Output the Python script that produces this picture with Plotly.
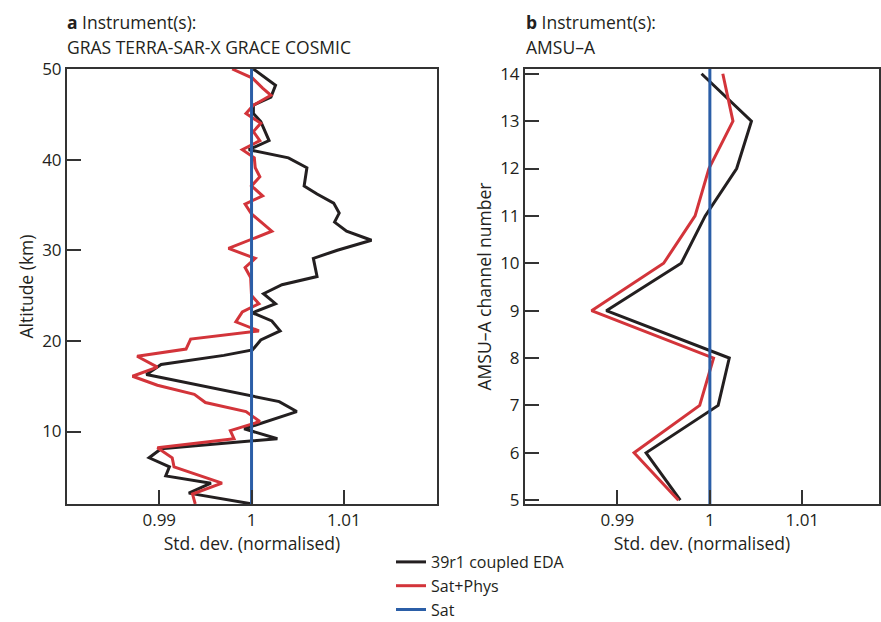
import plotly.graph_objects as go

# Panel a: altitude (km) and normalised std. dev.
alt_black = [50, 48.2, 46.9, 46.0, 45.1, 44.2, 42.1, 41.1, 40.2, 39.1, 37.1, 36.2, 35.2, 34.1, 33.1, 32.1, 31.1, 30.0, 29.1, 27.1, 26.2, 25.2, 24.1, 23.1, 22.2, 21.1, 20.1, 19.0, 18.4, 17.4, 16.3, 15.1, 13.3, 12.2, 10.3, 9.2, 8.1, 7.1, 6.1, 5.1, 4.3, 3.2, 2.0]
std_black = [1.0002, 1.0026, 1.0021, 1.0002, 1.0002, 1.0010, 1.0019, 0.9997, 1.0040, 1.0060, 1.0057, 1.0071, 1.0089, 1.0095, 1.0090, 1.0103, 1.0130, 1.0093, 1.0067, 1.0071, 1.0033, 1.0013, 1.0026, 1.0001, 1.0022, 1.0031, 1.0010, 1.0001, 0.9970, 0.9902, 0.9886, 0.9945, 1.0030, 1.0049, 0.9992, 1.0028, 0.9902, 0.9889, 0.9911, 0.9907, 0.9956, 0.9932, 1.0001]

alt_red = [50, 49.0, 47.9, 47.1, 46.0, 45.1, 44.0, 43.1, 42.1, 41.1, 40.2, 39.1, 38.1, 37.1, 36.0, 35.1, 34.0, 32.1, 30.2, 29.1, 28.1, 27.0, 25.0, 24.1, 23.2, 22.1, 21.1, 20.2, 19.1, 18.3, 17.1, 16.1, 15.1, 14.1, 13.2, 12.2, 11.1, 10.1, 9.2, 8.2, 7.1, 6.1, 4.3, 3.1, 2.0]
std_red = [0.9979, 1.0001, 1.0012, 1.0021, 1.0002, 0.9994, 1.0010, 1.0002, 1.0009, 0.9990, 1.0003, 1.0004, 1.0009, 1.0000, 1.0012, 0.9993, 1.0000, 1.0022, 0.9975, 1.0004, 0.9993, 0.9999, 1.0000, 1.0008, 0.9990, 0.9983, 1.0008, 0.9934, 0.9929, 0.9876, 0.9898, 0.9871, 0.9898, 0.9938, 0.9950, 0.9994, 1.0009, 0.9977, 0.9981, 0.9898, 0.9914, 0.9916, 0.9968, 0.9936, 0.9939]

alt_blue = [2, 50]
std_blue = [1.0, 1.0]

# Panel b: AMSU-A channel numbers
channels = [14, 13, 12, 11, 10, 9, 8, 7, 6, 5]
amsu_black = [0.9991, 1.0045, 1.0029, 0.9995, 0.9969, 0.9888, 1.0021, 1.0009, 0.9931, 0.9968]
amsu_red = [1.0014, 1.0025, 0.9999, 0.9984, 0.9950, 0.9872, 1.0004, 0.9989, 0.9918, 0.9966]
amsu_blue = [1.0, 1.0]
chan_blue = [4.92, 14.1]

x_ticks = [0.99, 1.0, 1.01]
x_ticklabels = ["0.99", "1", "1.01"]
a_yticks = [10, 20, 30, 40, 50]
b_yticks = list(range(5, 15))

names = ["39r1 coupled EDA", "Sat+Phys", "Sat"]
BLACK = "#231f20"
RED = "#d3343a"
BLUE = "#2b5ea7"
FONT = "Open Sans"

fig = go.Figure()
lw = 3
fig.add_trace(go.Scatter(x=std_black, y=alt_black, mode="lines", line=dict(color=BLACK, width=lw),
                         name=names[0], xaxis="x", yaxis="y"))
fig.add_trace(go.Scatter(x=std_red, y=alt_red, mode="lines", line=dict(color=RED, width=lw),
                         name=names[1], xaxis="x", yaxis="y"))
fig.add_trace(go.Scatter(x=std_blue, y=alt_blue, mode="lines", line=dict(color=BLUE, width=lw),
                         name=names[2], xaxis="x", yaxis="y"))
fig.add_trace(go.Scatter(x=amsu_black, y=channels, mode="lines", line=dict(color=BLACK, width=lw),
                         name=names[0], showlegend=False, xaxis="x2", yaxis="y2"))
fig.add_trace(go.Scatter(x=amsu_red, y=channels, mode="lines", line=dict(color=RED, width=lw),
                         name=names[1], showlegend=False, xaxis="x2", yaxis="y2"))
fig.add_trace(go.Scatter(x=amsu_blue, y=chan_blue, mode="lines", line=dict(color=BLUE, width=lw),
                         name=names[2], showlegend=False, xaxis="x2", yaxis="y2"))

axis_common = dict(showline=True, mirror=True, linecolor="#333333", linewidth=2,
                   ticks="inside", ticklen=14, tickwidth=2, tickcolor="#333333",
                   showgrid=False, zeroline=False, automargin=False,
                   tickfont=dict(size=17, color="#231f20", family=FONT))
title_font = dict(size=17.5, color="#231f20", family=FONT)

ytop = 1 - 69 / 622
ybot = 1 - 504 / 622

fig.update_layout(
    width=881, height=622,
    margin=dict(l=0, r=0, t=0, b=0, autoexpand=False),
    plot_bgcolor="white", paper_bgcolor="white",
    font=dict(family=FONT, color="#231f20"),
    xaxis=dict(domain=[67 / 881, 437 / 881], range=[0.98, 1.0201], tickvals=x_ticks,
               ticktext=x_ticklabels, anchor="y",
               title=dict(text="Std. dev. (normalised)", font=title_font, standoff=2), **axis_common),
    yaxis=dict(domain=[ybot, ytop], range=[2, 50], tickvals=a_yticks, anchor="x",
               title=dict(text="Altitude (km)", font=title_font, standoff=4), **axis_common),
    xaxis2=dict(domain=[525 / 881, 879 / 881], range=[0.98, 1.0183], tickvals=x_ticks,
                ticktext=x_ticklabels, anchor="y2",
                title=dict(text="Std. dev. (normalised)", font=title_font, standoff=2), **axis_common),
    yaxis2=dict(domain=[ybot, ytop], range=[4.92, 14.1], tickvals=b_yticks, anchor="x2",
                title=dict(text="AMSU–A channel number", font=title_font, standoff=4), **axis_common),
    legend=dict(x=391 / 881, y=1 - 545 / 622, xref="paper", yref="paper",
                xanchor="left", yanchor="top",
                font=dict(size=16, family=FONT, color="#231f20"),
                bgcolor="rgba(0,0,0,0)", tracegroupgap=0, itemwidth=30),
    showlegend=True,
)

ann_font = dict(size=17.5, family=FONT, color="#231f20")
annotations = [
    dict(text="<b>a</b> Instrument(s):", x=65 / 881, y=1 - 22 / 622),
    dict(text="GRAS TERRA-SAR-X GRACE COSMIC", x=65 / 881, y=1 - 47 / 622),
    dict(text="<b>b</b> Instrument(s):", x=524 / 881, y=1 - 22 / 622),
    dict(text="AMSU–A", x=524 / 881, y=1 - 47 / 622),
]
for a in annotations:
    fig.add_annotation(xref="paper", yref="paper", xanchor="left", yanchor="middle",
                       showarrow=False, font=ann_font, **a)

fig.write_html("out.html")
